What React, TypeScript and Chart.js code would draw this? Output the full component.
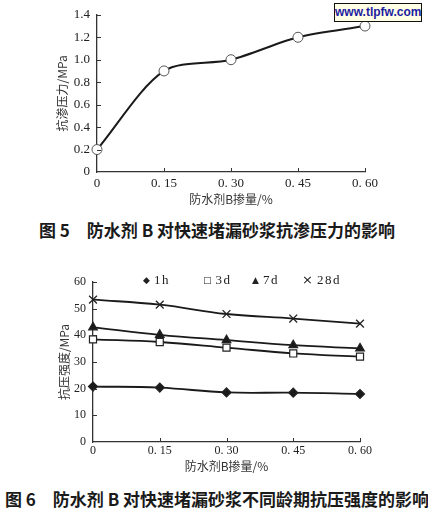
import React, { useEffect, useRef } from "react";
import { Chart, registerables } from "chart.js";

Chart.register(...registerables);

// ---- data ----
const doseLabels = ["0", "0. 15", "0. 30", "0. 45", "0. 60"];
const impermeability = [0.2, 0.9, 1.0, 1.2, 1.3];
const strength1h = [20.8, 20.4, 18.6, 18.5, 18.0];
const strength3d = [38.5, 37.5, 35.4, 33.2, 32.0];
const strength7d = [43.0, 40.2, 38.2, 36.3, 35.1];
const strength28d = [53.4, 51.5, 48.0, 46.3, 44.4];
const legendItems = [
  { marker: "◆", label: "1h" },
  { marker: "□", label: "3d" },
  { marker: "▲", label: "7d" },
  { marker: "×", label: "28d" },
];

const SERIF = "'Liberation Serif', 'DejaVu Serif', serif";
const CJK = "'Noto Sans CJK SC', 'Noto Sans', sans-serif";
const INK = "#1a1a1a";

const innerTicks = {
  id: "innerTicks",
  afterDraw(chart: any) {
    const { ctx, chartArea, scales } = chart;
    ctx.save();
    ctx.strokeStyle = "#333";
    ctx.lineWidth = 1;
    const xs = scales.x;
    const ys = scales.y;
    xs.ticks.forEach((_t: any, i: number) => {
      if (i === 0) return;
      const px = Math.round(xs.getPixelForTick(i)) + 0.5;
      ctx.beginPath();
      ctx.moveTo(px, chartArea.bottom);
      ctx.lineTo(px, chartArea.bottom - 4);
      ctx.stroke();
    });
    ys.ticks.forEach((_t: any, i: number) => {
      if (i === 0) return;
      const py = Math.round(ys.getPixelForTick(i)) + 0.5;
      ctx.beginPath();
      ctx.moveTo(chartArea.left, py);
      ctx.lineTo(chartArea.left + 4, py);
      ctx.stroke();
    });
    ctx.restore();
  },
};

function baseScales(opts: {
  yMin: number;
  yMax: number;
  yStep: number;
  yFmt: (v: number) => string;
  yTitle: string;
  yWidth: number;
  xHeight: number;
  tickSize: number;
  xPad: number;
  yPad: number;
}) {
  return {
    x: {
      type: "category",
      offset: false,
      grid: { display: false, drawTicks: false },
      border: { display: true, color: "#333", width: 1.3 },
      ticks: {
        padding: opts.xPad,
        color: "#222",
        maxRotation: 0,
        autoSkip: false,
        font: { family: SERIF, size: opts.tickSize },
      },
      title: {
        display: true,
        text: "防水剂B掺量/%",
        padding: 0,
        color: "#333",
        font: { family: CJK, size: 12 },
      },
      afterFit(s: any) {
        s.height = opts.xHeight;
      },
    },
    y: {
      min: opts.yMin,
      max: opts.yMax,
      grid: { display: false, drawTicks: false },
      border: { display: true, color: "#333", width: 1.3 },
      ticks: {
        stepSize: opts.yStep,
        padding: opts.yPad,
        color: "#222",
        font: { family: SERIF, size: opts.tickSize },
        callback: (v: any) => opts.yFmt(Number(v)),
      },
      title: {
        display: true,
        text: opts.yTitle,
        padding: 0,
        color: "#333",
        font: { family: CJK, size: 12 },
      },
      afterFit(s: any) {
        s.width = opts.yWidth;
      },
    },
  };
}

function lineSet(data: number[], style: any, radius: number, bg: string) {
  return {
    data,
    borderColor: INK,
    borderWidth: 1.8,
    tension: 0.4,
    pointStyle: style,
    pointRadius: radius,
    pointBackgroundColor: bg,
    pointBorderColor: "#222",
    pointBorderWidth: 1.2,
    clip: false,
  };
}

export default function App() {
  const ref1 = useRef<HTMLCanvasElement>(null);
  const ref2 = useRef<HTMLCanvasElement>(null);

  useEffect(() => {
    const c1 = new Chart(ref1.current as HTMLCanvasElement, {
      type: "line",
      data: {
        labels: doseLabels,
        datasets: [
          {
            ...lineSet(impermeability, "circle", 5, "#fff"),
            tension: 0.3,
            borderWidth: 2,
            pointBorderColor: "#555",
            pointBorderWidth: 1,
          },
        ],
      },
      options: {
        animation: false,
        responsive: false,
        layout: { padding: { left: 55, right: 63, top: 12, bottom: 3 } },
        plugins: { legend: { display: false }, tooltip: { enabled: false } },
        scales: baseScales({
          yMin: 0,
          yMax: 1.4,
          yStep: 0.2,
          yFmt: (v) => (v === 0 ? "0" : v.toFixed(1)),
          yTitle: "抗渗压力/MPa",
          yWidth: 42,
          xHeight: 35,
          tickSize: 13,
          xPad: 4,
          yPad: 7,
        }) as any,
      },
      plugins: [innerTicks],
    } as any);

    const c2 = new Chart(ref2.current as HTMLCanvasElement, {
      type: "line",
      data: {
        labels: doseLabels,
        datasets: [
          lineSet(strength1h, "rectRot", 4.5, INK),
          lineSet(strength3d, "rect", 5, "#fff"),
          lineSet(strength7d, "triangle", 5, INK),
          { ...lineSet(strength28d, "crossRot", 5.5, INK), pointBorderWidth: 1.3 },
        ],
      },
      options: {
        animation: false,
        responsive: false,
        layout: { padding: { left: 57, right: 68, top: 27, bottom: 6 } },
        plugins: { legend: { display: false }, tooltip: { enabled: false } },
        scales: baseScales({
          yMin: 0,
          yMax: 60,
          yStep: 10,
          yFmt: (v) => String(Math.round(v)),
          yTitle: "抗压强度/MPa",
          yWidth: 36,
          xHeight: 32,
          tickSize: 12,
          xPad: 2,
          yPad: 7,
        }) as any,
      },
      plugins: [innerTicks],
    } as any);

    return () => {
      c1.destroy();
      c2.destroy();
    };
  }, []);

  const legendLeft = [143, 203, 252, 302];

  return (
    <div
      style={{
        position: "fixed",
        left: 0,
        top: 0,
        width: 428,
        height: 509,
        background: "#fff",
        overflow: "hidden",
      }}
    >
      <canvas
        ref={ref1}
        width={428}
        height={210}
        style={{ position: "absolute", left: 0, top: 0, width: 428, height: 210 }}
      />
      <div
        style={{
          position: "absolute",
          left: 334,
          top: 3,
          width: 86,
          height: 17,
          border: "1.5px solid #111",
          background: "#ffffe6",
          color: "#1c1ca0",
          fontFamily: "'Liberation Sans', Arial, sans-serif",
          fontWeight: 700,
          fontSize: 12,
          lineHeight: "17px",
          textAlign: "center",
        }}
      >
        www.tlpfw.com
      </div>
      <div
        style={{
          position: "absolute",
          left: 0,
          top: 219,
          width: 434,
          textAlign: "center",
          fontFamily: CJK,
          fontWeight: 700,
          fontSize: 17,
          lineHeight: "22px",
          color: "#1a1a1a",
          whiteSpace: "pre",
        }}
      >
        {"图 5\u3000防水剂 B 对快速堵漏砂浆抗渗压力的影响"}
      </div>
      <canvas
        ref={ref2}
        width={428}
        height={225}
        style={{ position: "absolute", left: 0, top: 255, width: 428, height: 225 }}
      />
      {legendItems.map((it, i) => (
        <div
          key={it.label}
          style={{
            position: "absolute",
            left: legendLeft[i],
            top: 272,
            height: 16,
            lineHeight: "16px",
            whiteSpace: "pre",
            color: "#222",
            display: "flex",
            alignItems: "center",
          }}
        >
          <span
            style={{
              fontFamily: "'DejaVu Sans', sans-serif",
              fontSize: it.marker === "×" ? 13 : 9,
              marginRight: 4,
            }}
          >
            {it.marker}
          </span>
          <span style={{ fontFamily: SERIF, fontSize: 13, letterSpacing: 1.5 }}>{it.label}</span>
        </div>
      ))}
      <div
        style={{
          position: "absolute",
          left: 0,
          top: 488,
          width: 434,
          textAlign: "center",
          fontFamily: CJK,
          fontWeight: 700,
          fontSize: 17,
          lineHeight: "22px",
          color: "#1a1a1a",
          whiteSpace: "pre",
        }}
      >
        {"图 6\u3000防水剂 B 对快速堵漏砂浆不同龄期抗压强度的影响"}
      </div>
    </div>
  );
}
